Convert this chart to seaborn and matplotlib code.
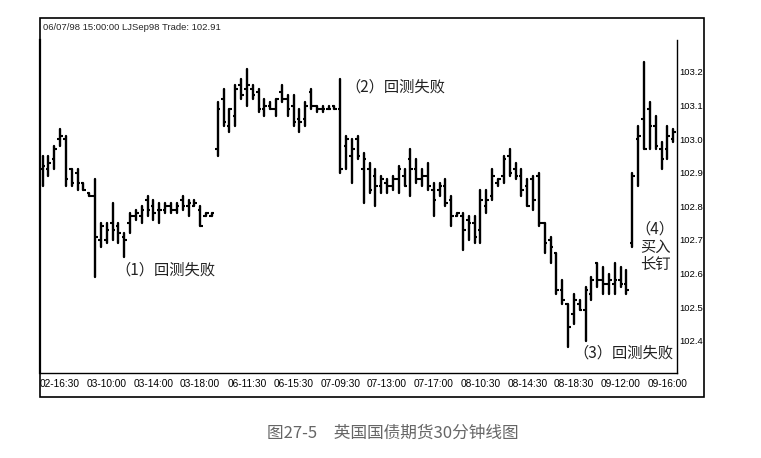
import matplotlib
matplotlib.use("Agg")
import matplotlib.pyplot as plt
import numpy as np
import pandas as pd
import seaborn as sns
from matplotlib.patches import Rectangle

W, H = 761, 458

# 30-minute OHLC bars (price units)
HIGHS = [
    102.95, 102.95, 102.98, 103.03, 103.01, 102.91, 102.91, 102.87, 102.84, 102.88,
    102.75, 102.75, 102.81, 102.75, 102.72, 102.78, 102.79, 102.80, 102.83, 102.82,
    102.81, 102.81, 102.81, 102.81, 102.83, 102.82, 102.82, 102.80, 102.78, 102.78,
    103.11, 103.15, 103.09, 103.16, 103.18, 103.21, 103.16, 103.15, 103.12, 103.11,
    103.12, 103.16, 103.13, 103.13, 103.09, 103.11, 103.15, 103.10, 103.10, 103.10,
    103.10, 103.18, 103.01, 103.00, 103.01, 102.96, 102.93, 102.91, 102.89, 102.88,
    102.89, 102.92, 102.91, 102.97, 102.94, 102.91, 102.93, 102.87, 102.87, 102.88,
    102.83, 102.78, 102.78, 102.77, 102.77, 102.85, 102.85, 102.91, 102.88, 102.95,
    102.97, 102.93, 102.91, 102.88, 102.89, 102.90, 102.75, 102.71, 102.66, 102.58,
    102.51, 102.54, 102.52, 102.56, 102.59, 102.63, 102.62, 102.60, 102.63, 102.62,
    102.61, 102.90, 103.04, 103.23, 103.11, 103.07, 102.99, 103.04, 103.03,
]
LOWS = [
    102.86, 102.89, 102.91, 102.98, 102.86, 102.86, 102.85, 102.85, 102.83, 102.59,
    102.68, 102.69, 102.70, 102.69, 102.65, 102.72, 102.76, 102.75, 102.77, 102.76,
    102.75, 102.78, 102.78, 102.78, 102.79, 102.77, 102.80, 102.74, 102.77, 102.77,
    102.95, 103.04, 103.02, 103.04, 103.12, 103.10, 103.12, 103.08, 103.07, 103.09,
    103.07, 103.11, 103.07, 103.04, 103.02, 103.04, 103.09, 103.08, 103.08, 103.09,
    103.09, 102.90, 102.91, 102.87, 102.94, 102.81, 102.84, 102.80, 102.84, 102.84,
    102.85, 102.84, 102.86, 102.83, 102.87, 102.86, 102.85, 102.77, 102.83, 102.80,
    102.74, 102.77, 102.67, 102.70, 102.69, 102.69, 102.78, 102.82, 102.86, 102.87,
    102.89, 102.88, 102.83, 102.80, 102.79, 102.74, 102.66, 102.63, 102.54, 102.51,
    102.38, 102.45, 102.49, 102.40, 102.52, 102.56, 102.54, 102.54, 102.54, 102.56,
    102.54, 102.68, 102.86, 102.97, 102.97, 102.97, 102.91, 102.94, 102.99,
]
OPENS = [
    102.91, 102.91, 102.94, 103.00, 103.00, 102.91, 102.90, 102.87, 102.84, 102.83,
    102.70, 102.70, 102.75, 102.74, 102.71, 102.75, 102.77, 102.77, 102.82, 102.80,
    102.79, 102.79, 102.80, 102.79, 102.82, 102.80, 102.80, 102.79, 102.77, 102.77,
    102.97, 103.12, 103.04, 103.07, 103.16, 103.15, 103.15, 103.14, 103.09, 103.10,
    103.09, 103.14, 103.12, 103.10, 103.06, 103.06, 103.14, 103.10, 103.09, 103.09,
    103.10, 103.09, 102.98, 102.95, 103.00, 102.91, 102.91, 102.89, 102.86, 102.87,
    102.86, 102.88, 102.89, 102.94, 102.91, 102.88, 102.89, 102.85, 102.85, 102.86,
    102.82, 102.77, 102.77, 102.76, 102.75, 102.73, 102.80, 102.83, 102.87, 102.89,
    102.95, 102.91, 102.89, 102.86, 102.88, 102.89, 102.75, 102.70, 102.66, 102.55,
    102.51, 102.48, 102.51, 102.49, 102.54, 102.63, 102.58, 102.57, 102.57, 102.58,
    102.57, 102.69, 103.00, 103.06, 103.09, 103.04, 102.97, 102.97, 103.00,
]
CLOSES = [
    102.92, 102.93, 102.97, 103.01, 102.88, 102.87, 102.87, 102.85, 102.83, 102.71,
    102.74, 102.73, 102.73, 102.72, 102.70, 102.77, 102.78, 102.79, 102.79, 102.78,
    102.79, 102.80, 102.79, 102.80, 102.80, 102.81, 102.81, 102.74, 102.78, 102.78,
    103.09, 103.05, 103.09, 103.15, 103.13, 103.16, 103.13, 103.09, 103.10, 103.09,
    103.12, 103.12, 103.09, 103.05, 103.05, 103.10, 103.10, 103.09, 103.09, 103.09,
    103.09, 102.91, 103.00, 102.97, 102.95, 102.94, 102.85, 102.86, 102.88, 102.86,
    102.88, 102.91, 102.86, 102.91, 102.88, 102.89, 102.86, 102.82, 102.86, 102.81,
    102.77, 102.78, 102.73, 102.75, 102.71, 102.82, 102.82, 102.89, 102.88, 102.94,
    102.90, 102.89, 102.85, 102.80, 102.82, 102.75, 102.69, 102.68, 102.55, 102.52,
    102.44, 102.52, 102.49, 102.55, 102.58, 102.58, 102.57, 102.58, 102.58, 102.57,
    102.55, 102.89, 103.01, 102.97, 103.04, 102.98, 102.94, 103.01, 103.02,
]

TICK_BARS = [3, 11, 19, 27, 35, 43, 51, 59, 67, 75, 83, 91, 99, 107]
TICK_LABELS = [
    "02-16:30", "03-10:00", "03-14:00", "03-18:00", "06-11:30", "06-15:30", "07-09:30",
    "07-13:00", "07-17:00", "08-10:30", "08-14:30", "08-18:30", "09-12:00", "09-16:00",
]
PRICE_TICKS = [103.2, 103.1, 103.0, 102.9, 102.8, 102.7, 102.6, 102.5, 102.4]

HEADER = "06/07/98 15:00:00 LJSep98 Trade: 102.91"
CAPTION = "图27-5\u3000英国国债期货30分钟线图"
NOTES = [
    (21.0, 102.611, "（1）回测失败"),
    (60.4, 103.155, "（2）回测失败"),
    (99.4, 102.364, "（3）回测失败"),
    (104.9, 102.679, "（4）\n买入\n长钉"),
]

NARROW = ["Liberation Sans", "DejaVu Sans"]
CJK = ["Noto Sans CJK SC", "DejaVu Sans"]


def fx(px):
    return px / W


def fy(py):
    return 1 - py / H


def main():
    sns.set_theme(style="white")
    plt.rcParams["font.family"] = CJK

    fig = plt.figure(figsize=(W / 100, H / 100), dpi=100)
    ax = fig.add_axes([fx(40), fy(373), fx(677) - fx(40), fy(40) - fy(373)])

    bars = np.arange(len(HIGHS))
    long = pd.DataFrame({
        "bar": np.concatenate([bars, bars]),
        "price": np.concatenate([HIGHS, LOWS]),
    })
    sns.lineplot(data=long, x="bar", y="price", units="bar", estimator=None,
                 color="black", linewidth=1.7, ax=ax, legend=False)
    ax.hlines(OPENS, bars - 0.45, bars, color="black", linewidth=1.5)
    ax.hlines(CLOSES, bars, bars + 0.45, color="black", linewidth=1.5)

    ax.set_xlim(-0.43, 108.65)
    ax.set_ylim(102.304, 103.295)
    ax.set_xlabel("")
    ax.set_ylabel("")

    ax.set_xticks(TICK_BARS)
    ax.set_xticklabels(TICK_LABELS, family=NARROW, fontsize=7.3)
    ax.yaxis.tick_right()
    ax.set_yticks(PRICE_TICKS)
    ax.set_yticklabels([f"{v:.1f}" for v in PRICE_TICKS], family=NARROW, fontsize=6.8)
    ax.tick_params(axis="x", direction="in", length=3, width=0.8, pad=4, colors="black")
    ax.tick_params(axis="y", direction="in", length=0, pad=2, colors="black")

    for side in ["left", "right", "bottom"]:
        ax.spines[side].set_visible(True)
        ax.spines[side].set_color("black")
    ax.spines["top"].set_visible(False)
    ax.spines["left"].set_linewidth(1.6)
    ax.spines["right"].set_linewidth(1.0)
    ax.spines["bottom"].set_linewidth(1.0)

    # outer frame of the chart window
    fig.add_artist(Rectangle((fx(40), fy(397)), fx(704) - fx(40), fy(18) - fy(397),
                             transform=fig.transFigure, fill=False,
                             edgecolor="black", linewidth=1.2))

    fig.text(fx(43), fy(28), HEADER, family=NARROW, fontsize=6.8, va="center", ha="left")

    for x, y, txt in NOTES:
        ax.text(x, y, txt, ha="center", va="center", fontsize=11, color="#222222",
                linespacing=1.05, family=CJK)

    fig.text(fx(393), fy(433), CAPTION, ha="center", va="center", fontsize=12,
             color="#666666", family=CJK)

    fig.savefig("out.png", dpi=100)


if __name__ == "__main__":
    main()
